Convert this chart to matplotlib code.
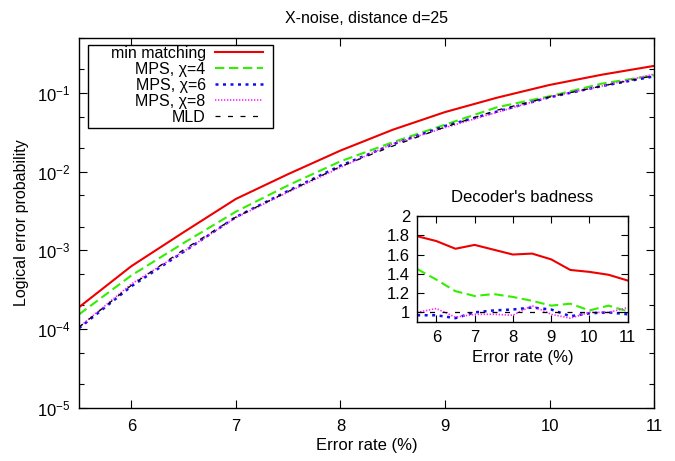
import matplotlib
matplotlib.use("Agg")
import matplotlib.pyplot as plt
from matplotlib.patches import Rectangle
from matplotlib.ticker import LogLocator, FixedLocator, FormatStrFormatter, NullFormatter

plt.rcParams['font.family'] = ['Liberation Sans', 'DejaVu Sans']
plt.rcParams['mathtext.fontset'] = 'custom'
plt.rcParams['mathtext.rm'] = 'Liberation Sans'
plt.rcParams['mathtext.it'] = 'Liberation Sans:italic'

error_rate = [5.5, 6.0, 6.5, 7.0, 7.5, 8.0, 8.5, 9.0, 9.5, 10.0, 10.5, 11.0]

p_min_matching = [1.9e-4, 6.3e-4, 1.7e-3, 4.5e-3, 9.3e-3, 0.0185, 0.034, 0.057, 0.087, 0.126, 0.17, 0.22]
p_mps4 = [1.54e-4, 4.8e-4, 1.24e-3, 3.1e-3, 6.7e-3, 0.0135, 0.0236, 0.0394, 0.0658, 0.0905, 0.131, 0.167]
p_mps6 = [1.03e-4, 3.5e-4, 9.6e-4, 2.65e-3, 5.7e-3, 0.0119, 0.0222, 0.0379, 0.058, 0.0878, 0.122, 0.162]
p_mps8 = [1.06e-4, 3.74e-4, 9.7e-4, 2.6e-3, 5.5e-3, 0.0113, 0.0226, 0.0361, 0.0568, 0.0887, 0.122, 0.173]
p_mld = [1.06e-4, 3.6e-4, 1.02e-3, 2.65e-3, 5.6e-3, 0.0116, 0.0211, 0.0368, 0.0604, 0.0887, 0.122, 0.165]

bad_min_matching = [1.79, 1.74, 1.66, 1.70, 1.65, 1.60, 1.61, 1.55, 1.44, 1.42, 1.39, 1.33]
bad_mps4 = [1.45, 1.34, 1.22, 1.17, 1.19, 1.16, 1.12, 1.07, 1.09, 1.02, 1.07, 1.01]
bad_mps6 = [0.97, 0.97, 0.94, 1.00, 1.02, 1.03, 1.05, 1.03, 0.96, 0.99, 1.00, 0.98]
bad_mps8 = [1.00, 1.04, 0.95, 0.98, 0.98, 0.97, 1.07, 0.98, 0.94, 1.00, 1.00, 1.05]
bad_mld = [1.0] * 12

labels = ['min matching', 'MPS, χ=4', 'MPS, χ=6', 'MPS, χ=8', 'MLD']
x_ticks = [6, 7, 8, 9, 10, 11]
inset_y_ticks = [1, 1.2, 1.4, 1.6, 1.8, 2]

styles = [
    dict(color='#ee0000', linestyle='-', linewidth=1.5),
    dict(color='#33ee00', linestyle=(0, (4.5, 2.2)), linewidth=1.5),
    dict(color='#1010ee', linestyle=(0, (1.2, 1.8)), linewidth=1.8),
    dict(color='#ff22ff', linestyle=(0, (0.8, 1.0)), linewidth=1.2),
    dict(color='#000000', linestyle=(0, (4, 6)), linewidth=0.9),
]

FS = 12

fig = plt.figure(figsize=(6.75, 4.61), dpi=100)
ax = fig.add_axes([0.117, 0.115, 0.852, 0.803])

series = [p_min_matching, p_mps4, p_mps6, p_mps8, p_mld]
for y, lab, st in zip(series, labels, styles):
    ax.plot(error_rate, y, label=lab, **st)

ax.set_yscale('log')
ax.set_xlim(5.5, 11)
ax.set_ylim(1e-5, 0.5)
ax.xaxis.set_major_locator(FixedLocator(x_ticks))
ax.xaxis.set_major_formatter(FormatStrFormatter('%g'))
ax.yaxis.set_major_locator(LogLocator(base=10, numticks=10))
ax.yaxis.set_minor_locator(LogLocator(base=10, subs=(2, 5), numticks=10))
ax.yaxis.set_minor_formatter(NullFormatter())
ax.tick_params(which='both', direction='in', top=True, right=True, labelsize=FS)
ax.tick_params(which='major', length=6, width=0.8)
ax.tick_params(which='minor', length=3.5, width=0.8)
ax.tick_params(axis='x', pad=8)
ax.tick_params(axis='y', pad=6)
for s in ax.spines.values():
    s.set_linewidth(1.0)

ax.set_xlabel('Error rate (%)', fontsize=FS, labelpad=3)
ax.set_ylabel('Logical error probability', fontsize=11.5, labelpad=6)
ax.set_title('X-noise, distance d=25', fontsize=11.5, pad=11)

# legend box frame (gnuplot-style key box)
ax.add_patch(Rectangle((0.0157, 0.757), 0.3217, 0.224, transform=ax.transAxes,
                       facecolor='white', edgecolor='black', linewidth=1.0,
                       zorder=4, clip_on=False))
leg = ax.legend(loc='upper right', bbox_to_anchor=(0.337, 1.004), markerfirst=False,
                frameon=False, fontsize=11.5,
                handlelength=3.0, handletextpad=0.6, labelspacing=0.06,
                borderpad=0.6, borderaxespad=0)
leg.set_zorder(5)

# inset
ins = fig.add_axes([0.618, 0.3015, 0.312, 0.230])
bad_series = [bad_min_matching, bad_mps4, bad_mps6, bad_mps8, bad_mld]
for y, st in zip(bad_series, styles):
    ins.plot(error_rate, y, **st)
ins.set_xlim(5.5, 11)
ins.set_ylim(0.9, 2)
ins.xaxis.set_major_locator(FixedLocator(x_ticks))
ins.yaxis.set_major_locator(FixedLocator(inset_y_ticks))
ins.xaxis.set_major_formatter(FormatStrFormatter('%g'))
ins.yaxis.set_major_formatter(FormatStrFormatter('%g'))
ins.tick_params(direction='in', top=True, right=True, labelsize=FS, length=5, width=0.8)
ins.tick_params(axis='x', pad=6)
ins.tick_params(axis='y', pad=5)
for s in ins.spines.values():
    s.set_linewidth(1.0)
ins.set_title("Decoder's badness", fontsize=FS, pad=10)
ins.set_xlabel('Error rate (%)', fontsize=FS, labelpad=3)

fig.savefig('out.png', dpi=100)
